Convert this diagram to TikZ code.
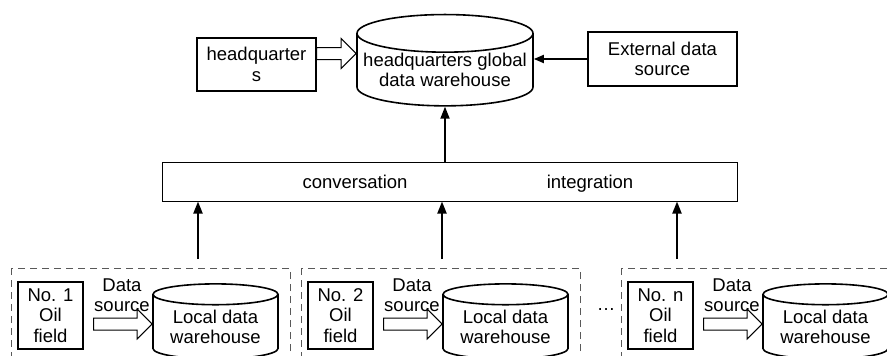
\documentclass[tikz,border=0pt]{standalone}
\usepackage{fontspec}
\setmainfont{Liberation Sans}
\usetikzlibrary{shapes.geometric,arrows.meta,calc}

\begin{document}
\begin{tikzpicture}[x=1pt,y=-1pt,
    every node/.style={font=\fontsize{18.5}{20.5}\selectfont, align=center, inner sep=0pt},
    plainbox/.style={draw, line width=1.4pt},
    store/.style={cylinder, shape border rotate=90, aspect=0.23, draw, line width=1.6pt},
    solidarrow/.style={line width=1.8pt, -{Triangle[length=12pt,width=9pt]}},
    hollow/.style={line width=1pt, to path={let \p1=(\tikztostart), \p2=(\tikztotarget) in
        (\x1,\y1+6pt) -- (\x2-15pt,\y1+6pt) -- (\x2-15pt,\y1+15pt) -- (\x2,\y1)
        -- (\x2-15pt,\y1-15pt) -- (\x2-15pt,\y1-6pt) -- (\x1,\y1-6pt) -- cycle}},
    dashbox/.style={draw=gray!70!black, dash pattern=on 7pt off 5pt, line width=1pt}]
    \clip (0,0) rectangle (887,356);
    % headquarters level
    \node[plainbox, minimum width=119pt, minimum height=53pt] (hq) at (256.5,64.5) {headquarter\\s};
    \node[store, minimum width=176pt, minimum height=87pt] (hqdw) at (445,70) {headquarters global\\data warehouse};
    \node[plainbox, minimum width=149pt, minimum height=54pt] (ext) at (662.5,59) {External data\\source};
    \draw[hollow] ([yshift=11pt]hq.east) to (hqdw.west);
    \draw[line width=1.8pt, -{Triangle[length=10pt,width=8pt]}] (ext.west) -- (ext.west -| hqdw.east);
    % integration bar
    \node[draw, line width=1pt, minimum width=575pt, minimum height=39pt] (mid) at (449.5,181.5) {};
    \node[anchor=base] (conv) at (355,188) {conversation};
    \node[anchor=base] (integ) at (590,188) {integration};
    \draw[solidarrow] (mid.north -| hqdw.south) -- (hqdw.south);
    \foreach \ax [count=\i] in {198,442,677}{
        \coordinate (feed\i) at (\ax,259);
        \draw[solidarrow] (feed\i) -- (feed\i |- mid.south);
    }
    % oil fields
    \foreach \dx/\num in {0/1, 290/2, 610/n}{
        \draw[dashbox] (11+\dx,268) rectangle ++(279,100);
        \node[plainbox, minimum width=65pt, minimum height=67pt] (field\num) at (50.5+\dx,315.5) {No. \num\\Oil\\field};
        \node[store, minimum width=125pt, minimum height=75pt] (local\num) at (215.5+\dx,327) {Local data\\warehouse};
        \node (src\num) at (122+\dx,295) {Data\\source};
        \draw[hollow] ([shift={(10pt,-8.5pt)}]field\num.east) to (local\num.west);
    }
    \node (dots) at (606,310) {…};
\end{tikzpicture}
\end{document}
